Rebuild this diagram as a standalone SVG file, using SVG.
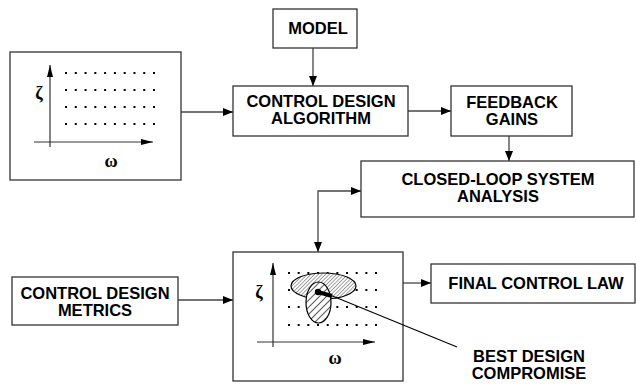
<svg xmlns="http://www.w3.org/2000/svg" width="636" height="386" viewBox="0 0 636 386">
  <style>
    .box { fill: #fff; stroke: #333; stroke-width: 1.3; }
    .lbl { font-family: "Liberation Sans", Arial, sans-serif; font-weight: bold; font-size: 16.5px; fill: #000; text-anchor: middle; }
    .greek { font-family: "Liberation Serif", "DejaVu Serif", serif; font-weight: bold; font-size: 18px; fill: #000; text-anchor: middle; }
    .wire { fill: none; stroke: #444; stroke-width: 1.3; }
    .axis { fill: none; stroke: #333; stroke-width: 1.2; }
    .dots { stroke: #000; stroke-width: 2.2; }
  </style>
  <defs>
    <marker id="arrow" viewBox="0 0 10 8" refX="10" refY="4" markerWidth="10" markerHeight="8" markerUnits="userSpaceOnUse" orient="auto-start-reverse">
      <path d="M0,0 L10,4 L0,8 z" fill="#000"/>
    </marker>
    <marker id="axhead" viewBox="0 0 12 6" refX="12" refY="3" markerWidth="12" markerHeight="6" markerUnits="userSpaceOnUse" orient="auto">
      <path d="M0,0 L12,3 L0,6 z" fill="#000"/>
    </marker>
    <pattern id="fineHatch" width="2.6" height="2.6" patternUnits="userSpaceOnUse" patternTransform="rotate(45)">
      <rect width="2.6" height="2.6" fill="#fff"/>
      <line x1="0" y1="0" x2="0" y2="2.6" stroke="#444" stroke-width="1"/>
    </pattern>
    <pattern id="wideHatch" width="5" height="5" patternUnits="userSpaceOnUse" patternTransform="rotate(45)">
      <line x1="0" y1="0" x2="0" y2="5" stroke="#000" stroke-width="1.3"/>
    </pattern>
  </defs>

  <!-- connectors -->
  <g id="connectors">
    <line class="wire" x1="181" y1="112" x2="233" y2="112" marker-end="url(#arrow)"/>
    <line class="wire" x1="313" y1="48" x2="313" y2="86" marker-end="url(#arrow)"/>
    <line class="wire" x1="408" y1="111" x2="451" y2="111" marker-end="url(#arrow)"/>
    <line class="wire" x1="509" y1="136" x2="509" y2="161" marker-end="url(#arrow)"/>
    <path class="wire" d="M318,252 V191 H361" marker-start="url(#arrow)" marker-end="url(#arrow)"/>
    <line class="wire" x1="178" y1="300" x2="233" y2="300" marker-end="url(#arrow)"/>
    <line class="wire" x1="403" y1="283" x2="431" y2="283" marker-end="url(#arrow)"/>
  </g>

  <!-- design space grid (input) -->
  <g id="design-space">
    <rect class="box" x="10" y="52" width="171" height="128"/>
    <line class="axis" x1="50" y1="147" x2="50" y2="65" marker-end="url(#axhead)"/>
    <line class="axis" x1="34" y1="142" x2="153" y2="142" marker-end="url(#axhead)"/>
    <g class="dots" stroke-dasharray="2 7.78">
      <line x1="65" y1="73" x2="157" y2="73"/>
      <line x1="65" y1="90" x2="157" y2="90"/>
      <line x1="65" y1="107" x2="157" y2="107"/>
      <line x1="65" y1="124" x2="157" y2="124"/>
    </g>
    <text class="greek" x="39" y="99">ζ</text>
    <text class="greek" x="111" y="167">ω</text>
  </g>

  <g id="model">
    <rect class="box" x="273" y="9" width="84" height="39"/>
    <text class="lbl" x="318" y="34">MODEL</text>
  </g>

  <g id="control-design-algorithm">
    <rect class="box" x="233" y="86" width="175" height="50"/>
    <text class="lbl" x="321" y="107">CONTROL DESIGN</text>
    <text class="lbl" x="321" y="124">ALGORITHM</text>
  </g>

  <g id="feedback-gains">
    <rect class="box" x="451" y="86" width="121" height="50"/>
    <text class="lbl" x="512" y="108">FEEDBACK</text>
    <text class="lbl" x="512" y="125">GAINS</text>
  </g>

  <g id="closed-loop-analysis">
    <rect class="box" x="361" y="161" width="273" height="56"/>
    <text class="lbl" x="498" y="185">CLOSED-LOOP SYSTEM</text>
    <text class="lbl" x="498" y="202">ANALYSIS</text>
  </g>

  <g id="control-design-metrics">
    <rect class="box" x="12" y="277" width="166" height="48"/>
    <text class="lbl" x="95" y="299">CONTROL DESIGN</text>
    <text class="lbl" x="95" y="316">METRICS</text>
  </g>

  <!-- evaluated design space with compromise region -->
  <g id="evaluated-space">
    <rect class="box" x="233" y="252" width="170" height="129"/>
    <line class="axis" x1="273" y1="347" x2="273" y2="263" marker-end="url(#axhead)"/>
    <line class="axis" x1="257" y1="342" x2="375" y2="342" marker-end="url(#axhead)"/>
    <g class="dots" stroke-dasharray="2 7.67">
      <line x1="288" y1="273" x2="379" y2="273"/>
      <line x1="288" y1="290" x2="379" y2="290"/>
      <line x1="288" y1="307" x2="379" y2="307"/>
      <line x1="288" y1="325" x2="379" y2="325"/>
    </g>
    <ellipse cx="323.5" cy="286" rx="32.5" ry="13" fill="url(#fineHatch)" stroke="#000" stroke-width="1.2"/>
    <ellipse cx="318.5" cy="302.5" rx="12.5" ry="20.5" fill="#fff" stroke="none"/>
    <ellipse cx="318.5" cy="302.5" rx="12.5" ry="20.5" fill="url(#wideHatch)" stroke="#000" stroke-width="1.2"/>
    <circle cx="318" cy="292" r="3.2" fill="#000"/>
    <line x1="318" y1="292" x2="332" y2="296" stroke="#000" stroke-width="4"/>
    <text class="greek" x="259" y="298">ζ</text>
    <text class="greek" x="335" y="364">ω</text>
  </g>

  <g id="final-control-law">
    <rect class="box" x="431" y="264" width="204" height="39"/>
    <text class="lbl" x="536" y="289">FINAL CONTROL LAW</text>
  </g>

  <g id="best-compromise">
    <line x1="330" y1="295" x2="457" y2="347" stroke="#000" stroke-width="1.1"/>
    <text class="lbl" x="529" y="362">BEST DESIGN</text>
    <text class="lbl" x="529" y="379">COMPROMISE</text>
  </g>
</svg>
